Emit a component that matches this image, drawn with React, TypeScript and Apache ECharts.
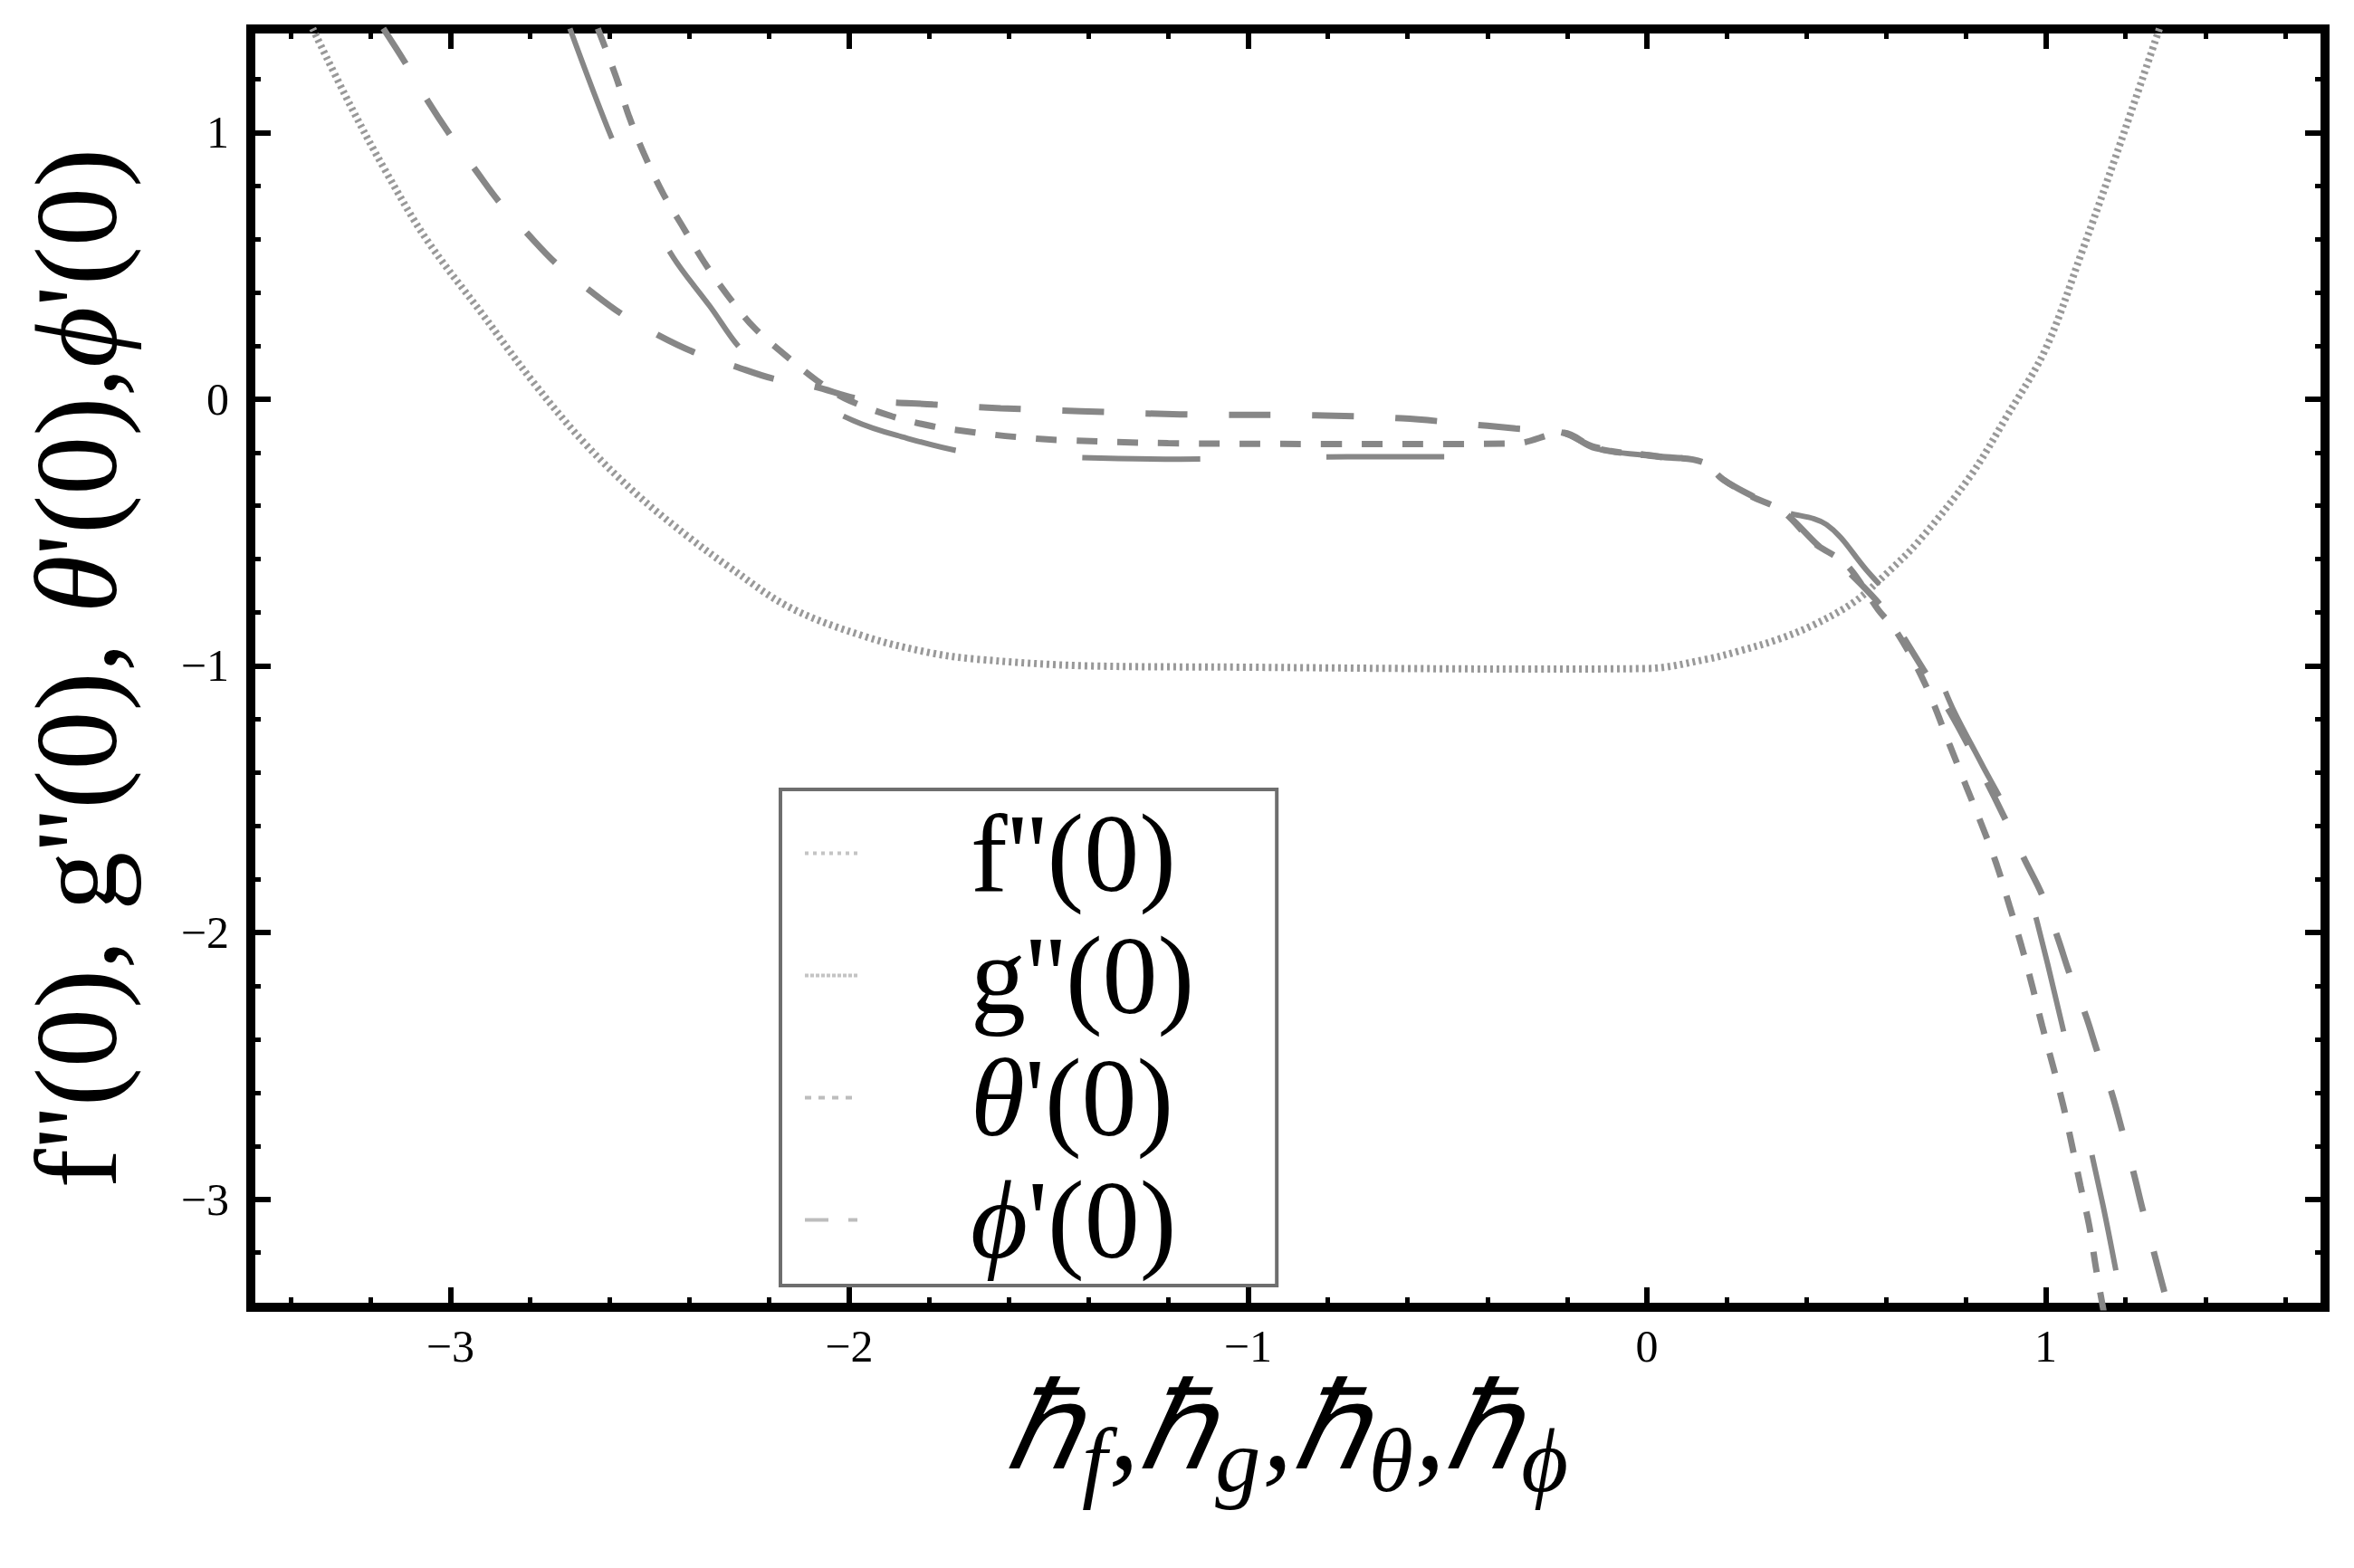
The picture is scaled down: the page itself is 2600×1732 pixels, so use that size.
import React, { useEffect, useRef } from "react";
import * as echarts from "echarts";

// ---------- data ----------
const seriesNames = ["f''(0)", "g''(0)", "θ'(0)", "ϕ'(0)"];

// f''(0)  (dotted, light grey U-shaped curve)
const fX = [-3.345, -3.25, -3.16, -3.06, -2.92, -2.79, -2.66, -2.53, -2.4, -2.3, -2.15, -1.96, -1.8, -1.68, -1.4, -1.0, -0.6, -0.3, 0.0, 0.15, 0.23, 0.33, 0.42, 0.52, 0.6, 0.68, 0.81, 0.9, 1.0, 1.09, 1.18, 1.285];
const fY = [1.39, 1.1, 0.85, 0.6, 0.32, 0.06, -0.17, -0.36, -0.52, -0.63, -0.78, -0.89, -0.95, -0.975, -1.0, -1.005, -1.01, -1.012, -1.01, -0.975, -0.945, -0.9, -0.845, -0.76, -0.655, -0.535, -0.29, -0.07, 0.19, 0.55, 0.93, 1.39];

// g''(0)  (long dashes)
const gX = [-2.7, -2.59, -2.52, -2.44, -2.35, -2.26, -2.13, -1.99, -1.88, -1.7, -1.5, -1.17, -0.75, -0.46, -0.3, -0.21, -0.13, 0.03, 0.14, 0.19, 0.26, 0.34, 0.45, 0.55, 0.65, 0.72, 0.77, 0.84, 0.905, 0.95, 1.005, 1.073, 1.143, 1.195];
const gY = [1.39, 0.96, 0.74, 0.53, 0.35, 0.17, 0.03, -0.08, -0.136, -0.2, -0.215, -0.225, -0.216, -0.216, -0.2, -0.13, -0.185, -0.216, -0.236, -0.3, -0.363, -0.42, -0.47, -0.64, -0.814, -1.0, -1.17, -1.37, -1.56, -1.8, -2.12, -2.556, -3.02, -3.42];

// θ'(0)  (short dashes)
const tX = [-2.63, -2.584, -2.552, -2.514, -2.466, -2.416, -2.364, -2.305, -2.238, -2.161, -2.082, -2.011, -1.893, -1.789, -1.684, -1.579, -1.475, -1.2, -0.8, -0.5, -0.33, -0.21, -0.13, 0.03, 0.14, 0.19, 0.26, 0.34, 0.42, 0.5, 0.58, 0.625, 0.695, 0.76, 0.8, 0.843, 0.877, 0.909, 0.939, 0.966, 0.991, 1.018, 1.044, 1.066, 1.087, 1.109, 1.126, 1.145];
const tY = [1.39, 1.207, 1.061, 0.919, 0.77, 0.644, 0.515, 0.39, 0.268, 0.166, 0.071, 0.003, -0.064, -0.102, -0.125, -0.142, -0.153, -0.165, -0.168, -0.168, -0.166, -0.126, -0.183, -0.216, -0.236, -0.3, -0.363, -0.42, -0.54, -0.62, -0.79, -0.87, -1.06, -1.3, -1.45, -1.61, -1.746, -1.9, -2.05, -2.2, -2.35, -2.5, -2.65, -2.8, -2.95, -3.1, -3.26, -3.42];

// ϕ'(0)  (medium dashes)
const pX = [-3.168, -3.114, -3.055, -3.0, -2.936, -2.877, -2.806, -2.734, -2.65, -2.57, -2.48, -2.389, -2.284, -2.193, -2.089, -1.97, -1.79, -1.62, -1.42, -1.17, -0.83, -0.615, -0.4, -0.33, -0.21, -0.13, 0.03, 0.14, 0.19, 0.26, 0.34, 0.43, 0.5, 0.6, 0.7, 0.77, 0.84, 0.9, 0.948, 0.991, 1.03, 1.061, 1.1, 1.13, 1.165, 1.191, 1.22, 1.243, 1.273, 1.31];
const pY = [1.39, 1.264, 1.115, 0.99, 0.858, 0.739, 0.62, 0.508, 0.407, 0.319, 0.241, 0.176, 0.122, 0.078, 0.048, 0.0, -0.02, -0.034, -0.045, -0.057, -0.061, -0.072, -0.1, -0.11, -0.126, -0.18, -0.215, -0.235, -0.3, -0.36, -0.42, -0.55, -0.64, -0.8, -1.03, -1.2, -1.4, -1.58, -1.73, -1.86, -2.02, -2.16, -2.31, -2.45, -2.6, -2.74, -2.9, -3.04, -3.21, -3.42];

const xMajorTicks = [-3, -2, -1, 0, 1];
const xMinorTicks = [-3.4, -3.2, -2.8, -2.6, -2.4, -2.2, -1.8, -1.6, -1.4, -1.2, -0.8, -0.6, -0.4, -0.2, 0.2, 0.4, 0.6, 0.8, 1.2, 1.4, 1.6];
const yMajorTicks = [-3, -2, -1, 0, 1];
const yMinorTicks = [-3.2, -2.8, -2.6, -2.4, -2.2, -1.8, -1.6, -1.4, -1.2, -0.8, -0.6, -0.4, -0.2, 0.2, 0.4, 0.6, 0.8, 1.2];

const X_MIN = -3.5;
const X_MAX = 1.7;
const Y_MIN = -3.405;
const Y_MAX = 1.388;

// ---------- styling ----------
const SERIF = "Liberation Serif, Times New Roman, serif";
const LINE_GREY = "#878787";

const zip = (xs: number[], ys: number[]) => xs.map((x, i) => [x, ys[i]]);
const fmt = (v: number) => (v < 0 ? "\u2212" + Math.abs(v) : String(v));

function xAxis(position: string, ticks: number[], len: number, w: number, labels: boolean, extra: any = {}) {
  return {
    type: "value",
    min: X_MIN,
    max: X_MAX,
    position,
    axisLine: { show: false, onZero: false },
    splitLine: { show: false },
    axisTick: { show: true, inside: true, length: len, customValues: ticks, lineStyle: { color: "#000", width: w } },
    axisLabel: labels
      ? { show: true, customValues: ticks, margin: 18, formatter: fmt, fontFamily: SERIF, fontSize: 50, color: "#000" }
      : { show: false },
    ...extra,
  };
}

function yAxis(position: string, ticks: number[], len: number, w: number, labels: boolean, extra: any = {}) {
  return {
    type: "value",
    min: Y_MIN,
    max: Y_MAX,
    position,
    axisLine: { show: false, onZero: false },
    splitLine: { show: false },
    axisTick: { show: true, inside: true, length: len, customValues: ticks, lineStyle: { color: "#000", width: w } },
    axisLabel: labels
      ? { show: true, customValues: ticks, margin: 24, formatter: fmt, fontFamily: SERIF, fontSize: 50, color: "#000" }
      : { show: false },
    ...extra,
  };
}

function lineSeries(name: string, xs: number[], ys: number[], lineStyle: any, z: number) {
  return {
    type: "line",
    name,
    data: zip(xs, ys),
    symbol: "none",
    showSymbol: false,
    smooth: 0.35,
    silent: true,
    clip: true,
    itemStyle: { color: lineStyle.color },
    lineStyle: { ...lineStyle, cap: "butt" },
    z,
  };
}

export default function App() {
  const ref = useRef<HTMLDivElement>(null);

  useEffect(() => {
    if (!ref.current) return;
    const chart = echarts.init(ref.current, null, { renderer: "svg" });

    const italicRich = { fontFamily: SERIF, fontStyle: "italic", color: "#000" };

    const option: any = {
      animation: false,
      backgroundColor: "#fff",
      grid: {
        left: 277,
        top: 32,
        width: 2291,
        height: 1412,
        show: true,
        borderColor: "#000",
        borderWidth: 10,
        backgroundColor: "transparent",
      },
      xAxis: [
        xAxis("bottom", xMajorTicks, 22, 6, true, {
          name: "{h|ℏ}{s|f}{h|,}{h|ℏ}{s|g}{h|,}{h|ℏ}{s|θ}{h|,}{h|ℏ}{s|ϕ}",
          nameLocation: "middle",
          nameGap: 66,
          nameMoveOverlap: false,
          nameTextStyle: {
            fontFamily: SERIF,
            fontSize: 134,
            fontStyle: "italic",
            color: "#000",
            rich: {
              h: { ...italicRich, fontSize: 134, lineHeight: 134 },
              s: { ...italicRich, fontSize: 100, lineHeight: 100, padding: [72, 2, 0, 2] },
            },
          },
        }),
        xAxis("bottom", xMinorTicks, 11, 5, false),
        xAxis("top", xMajorTicks, 22, 6, false),
        xAxis("top", xMinorTicks, 11, 5, false),
      ],
      yAxis: [
        yAxis("left", yMajorTicks, 22, 6, true, {
          name: "f''(0), g''(0), {i|θ}'(0),{i|ϕ}'(0)",
          nameLocation: "middle",
          nameRotate: 90,
          nameGap: 128,
          nameMoveOverlap: false,
          nameTextStyle: {
            fontFamily: SERIF,
            fontSize: 130,
            color: "#000",
            rich: { i: { ...italicRich, fontSize: 130 } },
          },
        }),
        yAxis("left", yMinorTicks, 11, 5, false),
        yAxis("right", yMajorTicks, 22, 6, false),
        yAxis("right", yMinorTicks, 11, 5, false),
      ],
      legend: {
        show: true,
        orient: "vertical",
        left: 862,
        top: 872,
        padding: [3, 91, 5, 25],
        backgroundColor: "#fff",
        borderColor: "#6e6e6e",
        borderWidth: 4,
        itemWidth: 58,
        itemHeight: 12,
        itemGap: 0,
        selectedMode: false,
        itemStyle: { opacity: 0 },
        formatter: (n: string) => n.replace("θ", "{i|θ}").replace("ϕ", "{i|ϕ}"),
        textStyle: {
          fontFamily: SERIF,
          fontSize: 122,
          lineHeight: 135,
          color: "#000",
          padding: [0, 0, 0, 120],
          rich: { i: { ...italicRich, fontSize: 122, lineHeight: 135 } },
        },
        data: [
          { name: seriesNames[0], itemStyle: { opacity: 0 }, lineStyle: { color: "#c4c4c4", width: 4, type: [4, 5] } },
          { name: seriesNames[1], itemStyle: { opacity: 0 }, lineStyle: { color: "#c4c4c4", width: 4, type: [4, 2] } },
          { name: seriesNames[2], itemStyle: { opacity: 0 }, lineStyle: { color: "#bdbdbd", width: 4, type: [7, 8] } },
          { name: seriesNames[3], itemStyle: { opacity: 0 }, lineStyle: { color: "#bdbdbd", width: 4, type: [26, 22] } },
        ],
      },
      series: [
        lineSeries(seriesNames[0], fX, fY, { color: "#999999", width: 8, type: [3, 4] }, 2),
        lineSeries(seriesNames[1], gX, gY, { color: LINE_GREY, width: 6, type: [130, 140] }, 3),
        lineSeries(seriesNames[2], tX, tY, { color: LINE_GREY, width: 7, type: [23, 22] }, 3),
        lineSeries(seriesNames[3], pX, pY, { color: LINE_GREY, width: 7, type: [46, 46] }, 3),
      ],
    };

    chart.setOption(option);
    return () => chart.dispose();
  }, []);

  return (
    <div
      ref={ref}
      style={{ position: "absolute", left: 0, top: 0, width: 2600, height: 1732, background: "#fff" }}
    />
  );
}
